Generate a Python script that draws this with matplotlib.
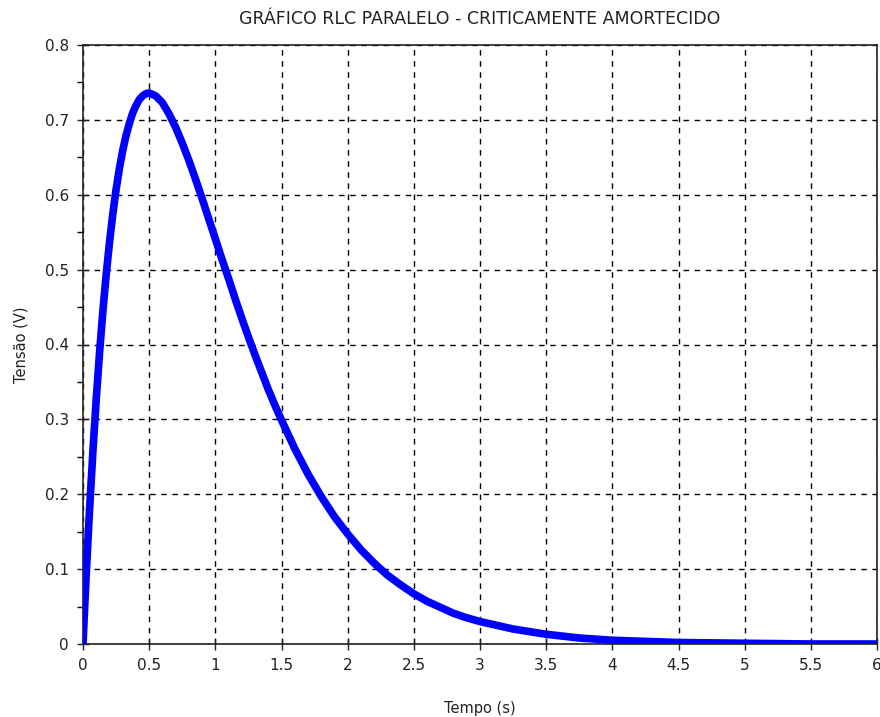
import numpy as np
import matplotlib
matplotlib.use('Agg')
import matplotlib.pyplot as plt
from matplotlib.ticker import MultipleLocator

# tensao no circuito RLC paralelo
tempo = [0, 0.0125, 0.025, 0.0375, 0.05, 0.075, 0.1, 0.125, 0.15, 0.175, 0.2,
         0.225, 0.25, 0.275, 0.3, 0.325, 0.35, 0.375, 0.4, 0.425, 0.45, 0.475, 0.5,
         0.55, 0.6, 0.65, 0.7, 0.75, 0.8, 0.85, 0.9, 0.95, 1.0, 1.05, 1.1, 1.15,
         1.2, 1.25, 1.3, 1.35, 1.4, 1.45, 1.5, 1.6, 1.7, 1.8, 1.9, 2.0, 2.1, 2.2,
         2.3, 2.4, 2.5, 2.6, 2.7, 2.8, 2.9, 3.0, 3.25, 3.5, 3.75, 4.0, 4.5, 5.0, 5.5, 6.0]
tensao = [0, 0.049, 0.095, 0.139, 0.181, 0.258, 0.327, 0.389, 0.444, 0.493, 0.536,
          0.574, 0.607, 0.635, 0.659, 0.679, 0.695, 0.709, 0.719, 0.727, 0.732, 0.735, 0.736,
          0.732, 0.723, 0.708, 0.690, 0.669, 0.646, 0.621, 0.595, 0.568, 0.541, 0.514, 0.488, 0.461,
          0.435, 0.410, 0.386, 0.363, 0.340, 0.319, 0.299, 0.261, 0.227, 0.197, 0.170, 0.147, 0.126, 0.108,
          0.092, 0.079, 0.067, 0.057, 0.049, 0.041, 0.035, 0.030, 0.020, 0.013, 0.008, 0.005, 0.002, 0.001, 0.0, 0.0]

plt.rcParams['font.family'] = ['DejaVu Sans']

fig = plt.figure(figsize=(8.8, 7.17), dpi=100)
ax = fig.add_axes([83/880, 73/717, 794/880, 599/717])

ax.plot(tempo, tensao, color='#0000ff', linewidth=5.5, solid_joinstyle='round', zorder=3)

ax.set_xlim(0, 6)
ax.set_ylim(0, 0.8)
ax.xaxis.set_major_locator(MultipleLocator(0.5))
ax.yaxis.set_major_locator(MultipleLocator(0.1))
ax.yaxis.set_minor_locator(MultipleLocator(0.05))
ax.xaxis.set_major_formatter(plt.FuncFormatter(lambda v, p: ('%g' % v)))
ax.yaxis.set_major_formatter(plt.FuncFormatter(lambda v, p: ('%g' % v)))

ax.grid(True, which='major', color='black', linestyle=(0, (4, 4)), linewidth=1.0)
ax.tick_params(which='major', direction='inout', length=8, width=1, labelsize=11, pad=6,
               color='#222222', labelcolor='#222222')
ax.tick_params(which='minor', direction='out', length=4, width=1)
ax.tick_params(top=False, right=False)
for s in ax.spines.values():
    s.set_linewidth(1.2)
    s.set_color('#222222')

ax.set_title('GRÁFICO RLC PARALELO - CRITICAMENTE AMORTECIDO', fontsize=12.5, pad=15, color='#222222')
ax.set_xlabel('Tempo (s)', fontsize=10.5, labelpad=20, color='#222222')
ax.set_ylabel('Tensão (V)', fontsize=10.5, labelpad=12, color='#222222')

fig.savefig('out.png', dpi=100)
